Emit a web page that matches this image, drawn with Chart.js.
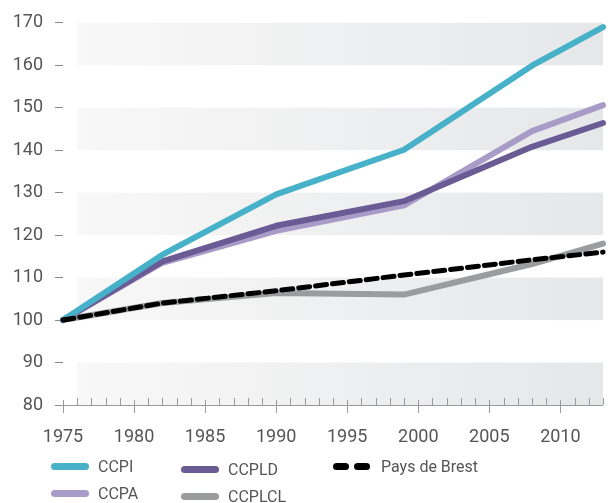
<!DOCTYPE html>
<html><head><meta charset="utf-8">
<script src="https://cdn.jsdelivr.net/npm/chart.js@4/dist/chart.umd.min.js"></script>
<style>
html,body{margin:0;padding:0;background:#fff;}
#wrap{position:relative;width:612px;height:503px;}
canvas{display:block;}
.col{position:absolute;top:453px;font-family:Roboto,sans-serif;font-size:16px;color:#555;}
.item{display:flex;align-items:center;height:27px;white-space:nowrap;}
.sw{width:38px;height:7px;border-radius:3.5px;margin-right:9px;flex:none;}
.dash{display:flex;gap:5px;width:37px;margin-right:11px;flex:none;}
.dash span{display:block;width:16px;height:7px;border-radius:3.5px;background:#000;}
</style></head>
<body><div id="wrap"><canvas id="c" width="612" height="503"></canvas>
<div class="col" id="l0" style="left:51px"></div>
<div class="col" id="l1" style="left:181px;top:456px"></div>
<div class="col" id="l2" style="left:333px"></div>
</div>
<script>
const years = [1975, 1982, 1990, 1999, 2008, 2013];
const ccpi   = [100, 115.4, 129.6, 140.1, 159.9, 169.0];
const ccpa   = [100, 113.5, 121.0, 127.0, 144.5, 150.6];
const ccpld  = [100, 113.8, 122.2, 128.0, 140.8, 146.4];
const ccplcl = [100, 104.0, 106.4, 106.0, 113.2, 118.0];
const brest  = [100, 104.0, 106.9, 110.6, 114.2, 116.0];
const xTicks = [1975, 1980, 1985, 1990, 1995, 2000, 2005, 2010];
const yTicks = [80, 90, 100, 110, 120, 130, 140, 150, 160, 170];
const bands = [[80, 90], [100, 110], [120, 130], [140, 150], [160, 170]];

const series = [
  {label:'CCPI', data:ccpi, color:'#46b1c8', order:1, col:0},
  {label:'CCPA', data:ccpa, color:'#a99bc7', order:3, col:0},
  {label:'CCPLD', data:ccpld, color:'#6a5b95', order:2, col:1},
  {label:'CCPLCL', data:ccplcl, color:'#9a9c9d', order:4, col:1},
  {label:'Pays de Brest', data:brest, color:'#000000', order:0, dash:true, col:2}
];

const datasets = series.map(s => ({
  label: s.label,
  data: years.map((y, i) => ({x: y, y: s.data[i]})),
  borderColor: s.color,
  backgroundColor: s.color,
  borderWidth: s.dash ? 5 : 6,
  borderDash: s.dash ? [11, 6] : [],
  borderCapStyle: 'round',
  borderJoinStyle: 'round',
  pointRadius: 0,
  tension: 0,
  order: s.order,
  clip: false
}));

const bgPlugin = {
  id: 'bg',
  beforeDatasetsDraw(chart) {
    const {ctx, chartArea, scales} = chart;
    const x0 = scales.x.getPixelForValue(1976);
    const x1 = chartArea.right;
    const g = ctx.createLinearGradient(x0, 0, x1, 0);
    g.addColorStop(0, '#f8f8f8');
    g.addColorStop(1, '#e6e7e9');
    ctx.save();
    ctx.fillStyle = g;
    bands.forEach(([a, b]) => {
      const ya = scales.y.getPixelForValue(a);
      const yb = scales.y.getPixelForValue(b);
      ctx.fillRect(x0, yb, x1 - x0, ya - yb);
    });
    const yb = chartArea.bottom;
    ctx.strokeStyle = '#9a9a9a';
    ctx.lineWidth = 1;
    ctx.beginPath();
    ctx.moveTo(chartArea.left - 3, yb + 0.5);
    ctx.lineTo(chartArea.right, yb + 0.5);
    for (let yr = 1975; yr <= 2013; yr++) {
      const px = Math.round(scales.x.getPixelForValue(yr)) + 0.5;
      if (yr % 5 === 0) { ctx.moveTo(px, yb - 5); ctx.lineTo(px, yb + 8); }
      else { ctx.moveTo(px, yb - 7); ctx.lineTo(px, yb); }
    }
    ctx.stroke();
    ctx.restore();
  }
};

new Chart(document.getElementById('c'), {
  type: 'line',
  data: {datasets},
  options: {
    responsive: false,
    animation: false,
    layout: {padding: {left: 0, top: 17, right: 9, bottom: 58}},
    plugins: {legend: {display: false}, tooltip: {enabled: false}},
    scales: {
      x: {
        type: 'linear', min: 1975, max: 2013,
        afterBuildTicks: s => { s.ticks = xTicks.map(v => ({value: v})); },
        afterFit: s => { s.height = 40; },
        grid: {display: false},
        border: {display: false},
        ticks: {padding: 14, maxRotation: 0, autoSkip: false, color: '#555', font: {family: 'Roboto', size: 18}, callback: v => String(v)}
      },
      y: {
        min: 80, max: 170,
        afterBuildTicks: s => { s.ticks = yTicks.map(v => ({value: v})); },
        afterFit: s => { s.width = 63; },
        grid: {drawOnChartArea: false, tickLength: 8, color: '#888', lineWidth: 1},
        border: {display: false},
        ticks: {padding: 12, color: '#555', font: {family: 'Roboto', size: 18}}
      }
    }
  },
  plugins: [bgPlugin]
});

series.forEach(s => {
  const d = document.createElement('div');
  d.className = 'item';
  d.innerHTML = (s.dash ? '<div class="dash"><span></span><span></span></div>' : '<div class="sw" style="background:' + s.color + '"></div>') + '<span>' + s.label + '</span>';
  document.getElementById('l' + s.col).appendChild(d);
});
</script></body></html>
